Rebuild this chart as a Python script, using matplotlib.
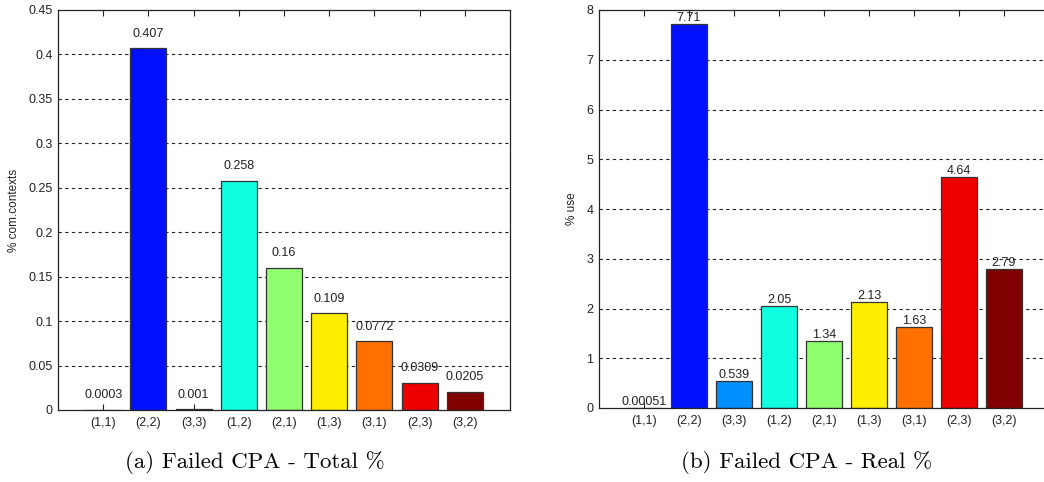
import matplotlib
matplotlib.use("Agg")
import matplotlib.pyplot as plt

categories = ["(1,1)", "(2,2)", "(3,3)", "(1,2)", "(2,1)", "(1,3)", "(3,1)", "(2,3)", "(3,2)"]
total_pct = [0.0003, 0.407, 0.001, 0.258, 0.16, 0.109, 0.0772, 0.0309, 0.0205]
total_labels = ["0.0003", "0.407", "0.001", "0.258", "0.16", "0.109", "0.0772", "0.0309", "0.0205"]
real_pct = [0.00051, 7.71, 0.539, 2.05, 1.34, 2.13, 1.63, 4.64, 2.79]
real_labels = ["0.00051", "7.71", "0.539", "2.05", "1.34", "2.13", "1.63", "4.64", "2.79"]
left_yticks = [0, 0.05, 0.1, 0.15, 0.2, 0.25, 0.3, 0.35, 0.4, 0.45]
left_yticklabels = ["0", "0.05", "0.1", "0.15", "0.2", "0.25", "0.3", "0.35", "0.4", "0.45"]
right_yticks = [0, 1, 2, 3, 4, 5, 6, 7, 8]

colors = ["#00008F", "#0010FF", "#0090FF", "#10FFE0", "#90FF70", "#FFEE00", "#FF7000", "#EE0000", "#800000"]

W, H = 1044, 482
fig = plt.figure(figsize=(W / 100, H / 100), dpi=100)

def px_axes(x0, y0, x1, y1):
    return fig.add_axes([x0 / W, 1 - y1 / H, (x1 - x0) / W, (y1 - y0) / H])

tick_font = dict(family="Liberation Sans", size=9)

def style(ax, ymax, yticks, yticklabels, ylabel):
    x = list(range(1, len(categories) + 1))
    ax.set_xlim(0, 10)
    ax.set_ylim(0, ymax)
    ax.set_xticks(x)
    ax.set_xticklabels(categories, **tick_font, color="#2a2a4a")
    ax.set_yticks(yticks)
    ax.set_yticklabels(yticklabels, **tick_font, color="#222222")
    ax.tick_params(axis="x", direction="in", length=4, width=0.8, top=True, bottom=True,
                   pad=5, colors="#222222")
    ax.tick_params(axis="y", length=0, pad=4)
    for s in ax.spines.values():
        s.set_linewidth(0.9)
        s.set_color("#222222")
    for yt in yticks[1:]:
        if yt < ymax:
            ax.axhline(yt, color="#222222", lw=0.8, ls=(0, (3, 3)), zorder=0)
    ax.set_ylabel(ylabel, fontfamily="Liberation Sans", fontsize=8.5, color="#222222", labelpad=6)
    return x

# Left chart
ax1 = px_axes(58, 10, 510, 410)
x = style(ax1, 0.45, left_yticks, left_yticklabels, "% com.contexts")
ax1.bar(x, total_pct, width=0.8, color=colors, edgecolor="#333333", linewidth=0.9, zorder=2)
for xi, v, lab in zip(x, total_pct, total_labels):
    ax1.annotate(lab, (xi, v), xytext=(0, 6), textcoords="offset points", ha="center",
                 va="bottom", fontfamily="Liberation Sans", fontsize=9, color="#222222")

# Right chart
ax2 = px_axes(599, 10, 1049, 408)
x = style(ax2, 8, right_yticks, [str(t) for t in right_yticks], "% use")
ax2.bar(x, real_pct, width=0.8, color=colors, edgecolor="#333333", linewidth=0.9, zorder=2)
for xi, v, lab in zip(x, real_pct, real_labels):
    ax2.annotate(lab, (xi, v), xytext=(0, 0), textcoords="offset points", ha="center",
                 va="bottom", fontfamily="Liberation Sans", fontsize=9, color="#222222")

fig.text(255 / W, 1 - 462 / H, "(a) Failed CPA - Total %", ha="center", va="center",
         fontfamily="cmr10", fontsize=16.5)
fig.text(807 / W, 1 - 462 / H, "(b) Failed CPA - Real %", ha="center", va="center",
         fontfamily="cmr10", fontsize=16.5)

fig.savefig("out.png", dpi=100)
